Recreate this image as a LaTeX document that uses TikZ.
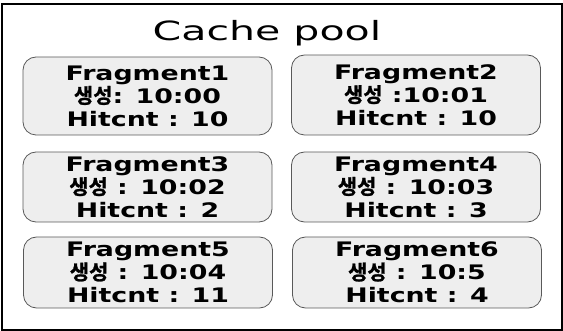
\documentclass[tikz,border=0pt]{standalone}
\usepackage{fontspec}
\setmainfont{DejaVu Sans}
\newfontfamily\titlefont{DejaVu Sans}[FakeStretch=1.55]
\newfontfamily\fragfont{DejaVu Sans Bold}[FakeStretch=1.34]
\newfontfamily\krfont{Noto Sans CJK KR Bold}[FakeStretch=1.02,FakeBold=1.2]
\usetikzlibrary{positioning}
\tikzset{
  frag/.style={draw=black!65,rounded corners=13pt,fill=gray!13,line width=0.8pt,
               minimum width=249pt,minimum height=72pt,inner sep=0pt,align=center,
               font=\fragfont\fontsize{20}{23}\selectfont},
  pooltitle/.style={font=\titlefont\fontsize{26.5}{30}\selectfont,anchor=base},
  poolframe/.style={draw,line width=1.2pt},
}
\newcommand{\gen}{{\krfont\fontsize{20.5}{23}\selectfont 생성}}

\begin{document}
\begin{tikzpicture}[x=1pt,y=-1pt]
  \useasboundingbox (0,0) rectangle (563,331);
  \draw[poolframe] (2,4) rectangle (562,330);
  \draw[line width=2.5pt] (2,4) -- (2,330);
  \node[pooltitle] (title) at (267,41) {Cache pool};
  % fragments, two per row
  \node[frag,minimum height=78pt] (frag1) at (147.5,96) {Fragment1\\\gen: 10:00\\Hitcnt : 10};
  \node[frag,minimum height=80pt] (frag2) at (416,95) {Fragment2\\\gen\ :10:01\\Hitcnt : 10};
  \node[frag,minimum height=70pt] (frag3) at (147.5,187) {Fragment3\\\gen\ : 10:02\\Hitcnt : 2};
  \node[frag,minimum height=70pt] (frag4) at (416,187) {Fragment4\\\gen\ : 10:03\\Hitcnt : 3};
  \node[frag,minimum height=71pt] (frag5) at (148,272.5) {Fragment5\\\gen\ : 10:04\\Hitcnt : 11};
  \node[frag,minimum height=71pt] (frag6) at (417,272.5) {Fragment6\\\gen\ : 10:5\\Hitcnt : 4};
\end{tikzpicture}
\end{document}
